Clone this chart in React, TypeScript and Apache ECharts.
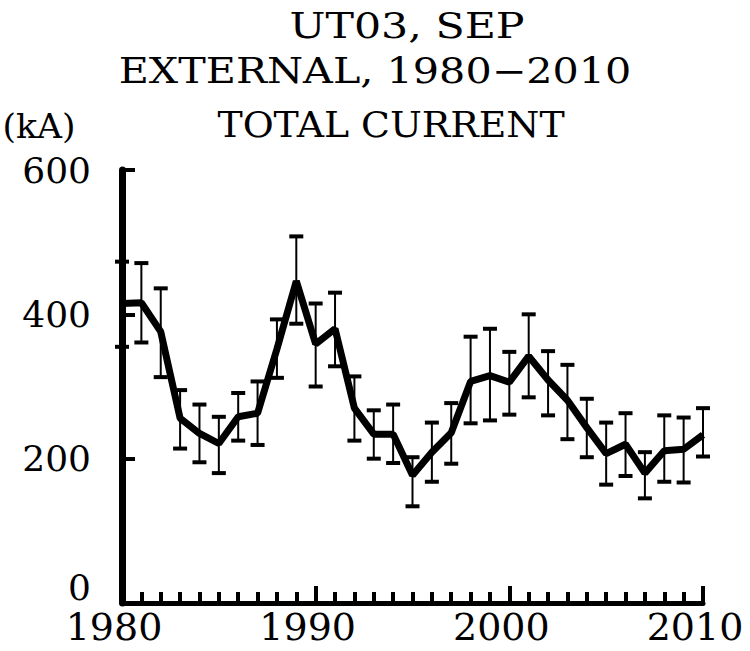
import React, { useEffect, useRef } from "react";
import * as echarts from "echarts";

const years = [
  1980, 1981, 1982, 1983, 1984, 1985, 1986, 1987, 1988, 1989,
  1990, 1991, 1992, 1993, 1994, 1995, 1996, 1997, 1998, 1999,
  2000, 2001, 2002, 2003, 2004, 2005, 2006, 2007, 2008, 2009, 2010,
];
const totalCurrent = [
  415, 416, 376, 256, 235, 221, 258, 263, 352, 446,
  359, 380, 270, 234, 234, 177, 209, 236, 307, 315,
  306, 342, 309, 281, 243, 207, 220, 180, 211, 213, 233,
];
const errLow = [
  355, 361, 313, 214, 195, 180, 225, 219, 312, 387,
  300, 328, 225, 200, 194, 134, 168, 193, 249, 253,
  261, 285, 260, 227, 202, 164, 176, 145, 168, 167, 203,
];
const errHigh = [
  473, 471, 436, 295, 275, 258, 291, 307, 393, 508,
  415, 430, 314, 267, 275, 202, 250, 277, 369, 380,
  348, 400, 349, 330, 283, 250, 263, 209, 260, 257, 270,
];
const titleLine1 = "UT03, SEP";
const titleLine2 = "EXTERNAL, 1980\u22122010";
const titleLine3 = "TOTAL CURRENT";
const unitLabel = "(kA)";

const FONT = "'DejaVu Serif', 'Liberation Serif', serif";

export default function App() {
  const ref = useRef<HTMLDivElement>(null);
  useEffect(() => {
    if (!ref.current) return;
    const chart = echarts.init(ref.current, undefined, { renderer: "svg" });
    const tStyle = (text: string, size: number) => ({
      text,
      font: `${size}px ${FONT}`,
      fill: "#000",
      textAlign: "center",
      textVerticalAlign: "middle",
    });
    const option: any = {
      animation: false,
      backgroundColor: "#fff",
      grid: { left: 122, right: 47, top: 170, bottom: 48, outerBoundsMode: "none" },
      graphic: [
        { type: "text", x: 407, y: 26, scaleX: 1.22, style: tStyle(titleLine1, 35) },
        { type: "text", x: 375, y: 71, scaleX: 1.18, style: tStyle(titleLine2, 35) },
        { type: "text", x: 391, y: 125, scaleX: 1.08, style: tStyle(titleLine3, 35) },
        { type: "text", x: 39, y: 127, scaleX: 1.05, style: tStyle(unitLabel, 33) },
      ],
      xAxis: {
        type: "value",
        min: 1980,
        max: 2010,
        interval: 10,
        axisLine: { show: true, lineStyle: { color: "#000", width: 5 } },
        axisTick: { show: true, inside: true, length: 17, lineStyle: { color: "#000", width: 4 } },
        minorTick: { show: true, splitNumber: 10, length: 11, lineStyle: { color: "#000", width: 4 } },
        splitLine: { show: false },
        minorSplitLine: { show: false },
        axisLabel: {
          color: "#000",
          fontFamily: FONT,
          fontSize: 38,
          margin: 5,
          padding: [0, 16, 0, 0],
          formatter: (v: number) => String(v),
        },
      },
      yAxis: {
        type: "value",
        min: 0,
        max: 600,
        interval: 200,
        axisLine: { show: true, lineStyle: { color: "#000", width: 7 } },
        axisTick: { show: true, inside: true, length: 13, lineStyle: { color: "#000", width: 4 } },
        splitLine: { show: false },
        axisLabel: {
          color: "#000",
          fontFamily: FONT,
          fontSize: 36,
          margin: 31,
          formatter: (v: number) => (v === 0 ? "{z|0}" : String(v)),
          rich: { z: { fontFamily: FONT, fontSize: 36, color: "#000", padding: [0, 0, 32, 0] } },
        },
      },
      series: [
        {
          type: "custom",
          clip: false,
          data: years.map((y, i) => [y, errLow[i], errHigh[i]]),
          encode: { x: 0, y: [1, 2] },
          renderItem: (params: any, api: any) => {
            const x = api.value(0);
            const pLo = api.coord([x, api.value(1)]);
            const pHi = api.coord([x, api.value(2)]);
            const hw = 7;
            return {
              type: "group",
              children: [
                { type: "line", shape: { x1: pLo[0], y1: pLo[1], x2: pHi[0], y2: pHi[1] }, style: { stroke: "#000", lineWidth: 2 } },
                { type: "line", shape: { x1: pLo[0] - hw, y1: pLo[1], x2: pLo[0] + hw, y2: pLo[1] }, style: { stroke: "#000", lineWidth: 4 } },
                { type: "line", shape: { x1: pHi[0] - hw, y1: pHi[1], x2: pHi[0] + hw, y2: pHi[1] }, style: { stroke: "#000", lineWidth: 4 } },
              ],
            };
          },
        },
        {
          type: "line",
          data: years.map((y, i) => [y, totalCurrent[i]]),
          showSymbol: false,
          symbol: "none",
          lineStyle: { color: "#000", width: 7 },
          z: 3,
        },
      ],
    };
    chart.setOption(option);
    return () => chart.dispose();
  }, []);
  return <div ref={ref} style={{ position: "absolute", left: 0, top: 0, width: 750, height: 651 }} />;
}
